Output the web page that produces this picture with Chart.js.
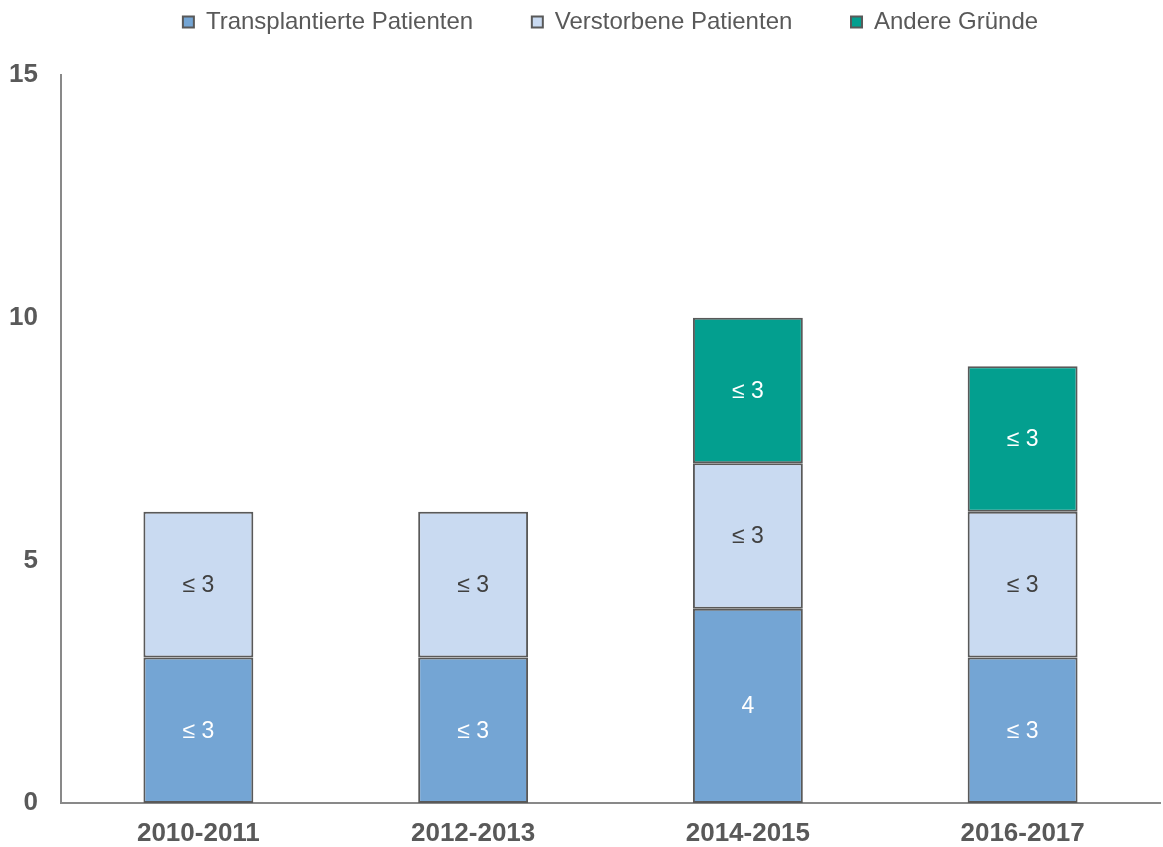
<!DOCTYPE html>
<html>
<head>
<meta charset="utf-8">
<script src="https://cdn.jsdelivr.net/npm/chart.js@4/dist/chart.umd.min.js"></script>
<style>
  html, body { margin: 0; padding: 0; background: #fff; }
  #wrap { width: 1163px; height: 847px; position: relative; }
</style>
</head>
<body>
<div id="wrap"><canvas id="myChart"></canvas></div>
<script>
var categories = ['2010-2011', '2012-2013', '2014-2015', '2016-2017'];
var transplantiert = [3, 3, 4, 3];
var verstorben = [3, 3, 3, 3];
var andere = [null, null, 3, 3];
var transplantiertLabels = ['≤ 3', '≤ 3', '4', '≤ 3'];
var verstorbenLabels = ['≤ 3', '≤ 3', '≤ 3', '≤ 3'];
var andereLabels = [null, null, '≤ 3', '≤ 3'];
var yTicks = [0, 5, 10, 15];

var FONT = '"Liberation Sans", Arial, sans-serif';

// draws the text inside each bar segment, and lifts the legend to the top edge
var segmentLabels = {
    id: 'segmentLabels',
    afterLayout: function (chart) {
        var lg = chart.legend;
        var shift = lg.top + 2;
        lg.top -= shift;
        lg.bottom -= shift;
    },
    afterDatasetsDraw: function (chart) {
        var ctx = chart.ctx;
        ctx.save();
        ctx.font = '23px ' + FONT;
        ctx.textAlign = 'center';
        ctx.textBaseline = 'middle';
        chart.data.datasets.forEach(function (ds, i) {
            var meta = chart.getDatasetMeta(i);
            meta.data.forEach(function (bar, j) {
                var txt = ds.segLabels[j];
                if (!txt) return;
                var p = bar.getProps(['x', 'y', 'base'], true);
                ctx.fillStyle = ds.segColor;
                ctx.fillText(txt, p.x, (p.y + p.base) / 2 + 1);
            });
        });
        ctx.restore();
    }
};

var ctx = document.getElementById('myChart');
var myChart = new Chart(ctx, {
    type: 'bar',
    data: {
        labels: categories,
        datasets: [{
            label: 'Transplantierte Patienten',
            data: transplantiert,
            segLabels: transplantiertLabels,
            segColor: '#ffffff',
            backgroundColor: '#74A5D4',
            borderColor: '#595959',
            borderWidth: 2,
            borderSkipped: false
        },
        {
            label: 'Verstorbene Patienten',
            data: verstorben,
            segLabels: verstorbenLabels,
            segColor: '#404040',
            backgroundColor: '#C9DAF1',
            borderColor: '#595959',
            borderWidth: 2,
            borderSkipped: false
        },
        {
            label: 'Andere Gründe',
            data: andere,
            segLabels: andereLabels,
            segColor: '#ffffff',
            backgroundColor: '#039F8F',
            borderColor: '#595959',
            borderWidth: 2,
            borderSkipped: false
        }]
    },
    options: {
        responsive: true,
        maintainAspectRatio: false,
        animation: false,
        layout: { padding: { top: 0, right: 3, bottom: 0, left: 0 } },
        datasets: {
            bar: { barPercentage: 0.4, categoryPercentage: 1 }
        },
        plugins: {
            tooltip: { enabled: false },
            legend: {
                position: 'top',
                fullSize: false,
                labels: {
                    boxWidth: 11,
                    boxHeight: 11,
                    padding: 12,
                    color: '#595959',
                    font: { family: FONT, size: 24 },
                    generateLabels: function (chart) {
                        var items = Chart.defaults.plugins.legend.labels.generateLabels(chart);
                        items.forEach(function (it, k) {
                            if (k < items.length - 1) it.text = it.text + '       ';
                        });
                        return items;
                    }
                }
            }
        },
        scales: {
            x: {
                stacked: true,
                grid: { display: false },
                border: { display: true, color: '#898989', width: 2 },
                afterFit: function (scale) { scale.height = 44; },
                ticks: {
                    color: '#595959',
                    padding: 7,
                    font: { family: FONT, size: 26, weight: 'bold' }
                }
            },
            y: {
                stacked: true,
                min: 0,
                max: 15,
                afterBuildTicks: function (axis) {
                    axis.ticks = yTicks.map(function (v) { return { value: v }; });
                },
                afterFit: function (scale) {
                    scale.width = 61;
                    scale.paddingTop = 75;
                },
                grid: { display: false },
                border: { display: true, color: '#898989', width: 2 },
                ticks: {
                    color: '#595959',
                    padding: 15,
                    font: { family: FONT, size: 26, weight: 'bold' }
                }
            }
        }
    },
    plugins: [segmentLabels]
});
</script>
</body>
</html>
